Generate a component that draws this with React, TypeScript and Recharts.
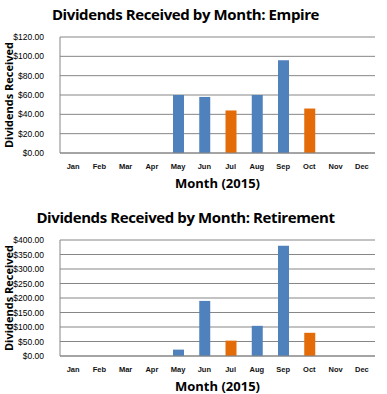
import { BarChart, Bar, XAxis, YAxis, CartesianGrid, Label } from "recharts"

const months = ["Jan","Feb","Mar","Apr","May","Jun","Jul","Aug","Sep","Oct","Nov","Dec"]

// blue = regular months, orange = the other payouts
const empireBlue = [0,0,0,0,60,58,0,60,96,0,0,0]
const empireOrange = [0,0,0,0,0,0,44,0,0,46,0,0]
const empireTicks = [0,20,40,60,80,100,120]

const retireBlue = [0,0,0,0,22,190,0,104,380,0,0,0]
const retireOrange = [0,0,0,0,0,0,53,0,0,80,0,0]
const retireTicks = [0,50,100,150,200,250,300,350,400]

const BLUE = "#4f81bd"
const ORANGE = "#e36c09"
const FONT = "'Liberation Sans', Arial, sans-serif"

function money(v:number){
  return "$" + v.toFixed(2)
}

type Props = {
  title:string
  blue:number[]
  orange:number[]
  ticks:number[]
  top:number
  plotTop:number
  plotBottom:number
  labelOffset:number
}

function DividendChart({title,blue,orange,ticks,top,plotTop,plotBottom,labelOffset}:Props){
  const data = months.map((m,i)=>({ month:m, blue:blue[i], orange:orange[i] }))
  const h = 197
  return(
    <div style={{position:"absolute",left:0,top,width:387,height:h}}>
      <div style={{
        position:"absolute",left:-8,width:387,top:plotTop-33,textAlign:"center",
        fontFamily:"'Open Sans', sans-serif",fontWeight:700,fontSize:15,color:"#000",
        letterSpacing:-0.4
      }}>{title}</div>
      <BarChart
        width={387}
        height={h}
        data={data}
        margin={{top:plotTop,right:12,bottom:0,left:0}}
        barCategoryGap={0}
        barSize={11}
      >
        <CartesianGrid vertical={false} stroke="#868686" />
        <XAxis
          dataKey="month"
          height={plotBottom}
          tickLine={false}
          axisLine={{stroke:"#868686"}}
          tick={{fontSize:7.5,fontFamily:FONT,fontWeight:700,fill:"#111"}}
          tickMargin={5}
          interval={0}
        >
          <Label value="Month (2015)" position="insideBottom" offset={labelOffset}
            style={{fontSize:13,fontWeight:700,fontFamily:"'Open Sans', sans-serif",fill:"#000"}} />
        </XAxis>
        <YAxis
          width={60}
          domain={[0,ticks[ticks.length-1]]}
          ticks={ticks}
          tickFormatter={money}
          tickLine={false}
          axisLine={{stroke:"#868686"}}
          tick={{fontSize:8.5,fontFamily:FONT,fill:"#000"}}
          tickMargin={10}
          interval={0}
        >
          <Label value="Dividends Received" angle={-90} position="insideLeft" offset={9}
            style={{fontSize:11,fontWeight:700,fontFamily:"'Open Sans', sans-serif",fill:"#000",textAnchor:"middle"}} />
        </YAxis>
        <Bar dataKey="blue" stackId="a" fill={BLUE} isAnimationActive={false} />
        <Bar dataKey="orange" stackId="a" fill={ORANGE} isAnimationActive={false} />
      </BarChart>
    </div>
  )
}

export default function App(){
  return(
    <div style={{position:"absolute",left:0,top:0,width:387,height:394,background:"#fff"}}>
      <DividendChart title="Dividends Received by Month: Empire"
        blue={empireBlue} orange={empireOrange} ticks={empireTicks}
        top={0} plotTop={37} plotBottom={44} labelOffset={9} />
      <DividendChart title="Dividends Received by Month: Retirement"
        blue={retireBlue} orange={retireOrange} ticks={retireTicks}
        top={197} plotTop={43} plotBottom={38} labelOffset={3} />
    </div>
  )
}
